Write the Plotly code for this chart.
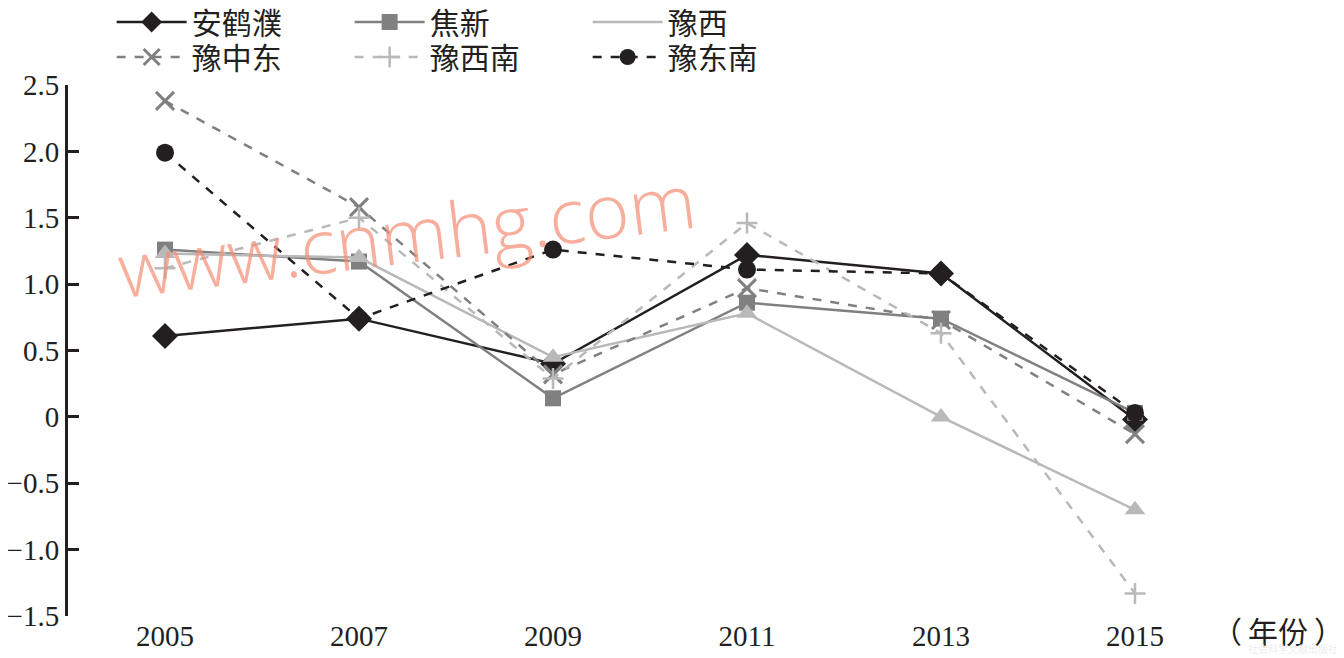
import plotly.graph_objects as go

years = ["2005", "2007", "2009", "2011", "2013", "2015"]
anhepu = [0.61, 0.74, 0.40, 1.22, 1.08, -0.02]
jiaoxin = [1.26, 1.17, 0.14, 0.86, 0.74, 0.03]
yuxi = [1.23, 1.20, 0.45, 0.78, 0.00, -0.70]
yuzhongdong = [2.38, 1.58, 0.32, 0.97, 0.73, -0.13]
yuxinan = [1.12, 1.50, 0.29, 1.46, 0.63, -1.33]
yudongnan = [1.99, 0.74, 1.26, 1.11, 1.08, 0.03]

y_ticks = [-1.5, -1.0, -0.5, 0, 0.5, 1.0, 1.5, 2.0, 2.5]
y_ticktext = ["\u22121.5", "\u22121.0", "\u22120.5", "0", "0.5", "1.0", "1.5", "2.0", "2.5"]
boundary_ticks = [0.5, 1.5, 2.5, 3.5, 4.5, 5.5]

BLACK = "#231f20"
GRAY = "#808080"
LIGHT = "#b9b9b9"
FONT = "Liberation Serif, Noto Sans CJK SC, serif"

fig = go.Figure()

fig.add_trace(go.Scatter(x=years, y=anhepu, name="安鹤濮", mode="lines+markers",
                         legend="legend",
                         line=dict(color=BLACK, width=2.5),
                         marker=dict(symbol="diamond", size=20, color=BLACK)))
fig.add_trace(go.Scatter(x=years, y=jiaoxin, name="焦新", mode="lines+markers",
                         legend="legend",
                         line=dict(color=GRAY, width=2.5),
                         marker=dict(symbol="square", size=16, color=GRAY)))
fig.add_trace(go.Scatter(x=years, y=yuxi, name="豫西", mode="lines",
                         legend="legend", legendgroup="yuxi",
                         line=dict(color=LIGHT, width=2.5)))
fig.add_trace(go.Scatter(x=years, y=yuzhongdong, name="豫中东", mode="lines+markers",
                         legend="legend2",
                         line=dict(color=GRAY, width=2.5, dash="dash"),
                         marker=dict(symbol="x-thin", size=18,
                                     line=dict(color=GRAY, width=3), color=GRAY)))
fig.add_trace(go.Scatter(x=years, y=yuxinan, name="豫西南", mode="lines+markers",
                         legend="legend2",
                         line=dict(color=LIGHT, width=2.5, dash="dash"),
                         marker=dict(symbol="cross-thin", size=15,
                                     line=dict(color=LIGHT, width=2.5), color=LIGHT)))
fig.add_trace(go.Scatter(x=years, y=yudongnan, name="豫东南", mode="lines+markers",
                         legend="legend2",
                         line=dict(color=BLACK, width=2.5, dash="dash"),
                         marker=dict(symbol="circle", size=18, color=BLACK)))
fig.add_trace(go.Scatter(x=years, y=yuxi, name="豫西", mode="markers",
                         legendgroup="yuxi", showlegend=False,
                         marker=dict(symbol="triangle-up", size=18, color=LIGHT)))

legend_common = dict(orientation="h", x=0.0375, xanchor="left", yanchor="middle",
                     font=dict(size=30, family=FONT, color=BLACK),
                     itemwidth=70, entrywidth=153, entrywidthmode="pixels",
                     bgcolor="rgba(0,0,0,0)", traceorder="normal")

# page body has an 8px margin, so the figure is 8px smaller and shifted
fig.update_layout(
    width=1336, height=650,
    margin=dict(l=60, r=112, t=77, b=42, autoexpand=False),
    paper_bgcolor="white", plot_bgcolor="white",
    font=dict(family=FONT, color=BLACK, size=29),
    showlegend=True,
    legend=dict(y=1 + (77 - 14) / 531, **legend_common),
    legend2=dict(y=1 + (77 - 49) / 531, **legend_common),
    xaxis=dict(type="category", range=[-0.5, 5.5], showline=False, showgrid=False,
               zeroline=False, ticks="", automargin=False,
               tickfont=dict(size=29, family=FONT, color=BLACK)),
    xaxis2=dict(overlaying="x", anchor="free", position=0.375, type="linear",
                range=[-0.5, 5.5], showline=True, linecolor=BLACK, linewidth=2.5,
                tickvals=boundary_ticks, ticks="inside", ticklen=11, tickwidth=2.5,
                tickcolor=BLACK, showticklabels=False, showgrid=False, zeroline=False,
                automargin=False),
    yaxis=dict(range=[-1.5, 2.5], tickvals=y_ticks, ticktext=y_ticktext,
               showline=True, linecolor=BLACK, linewidth=3, ticks="inside",
               ticklen=11, tickwidth=3, tickcolor=BLACK, showgrid=False, zeroline=False,
               automargin=False,
               tickfont=dict(size=29, family=FONT, color=BLACK)),
)

fig.add_annotation(text="（\u2009年份\u2009）", xref="paper", yref="paper", x=1.0395, y=-0.032,
                   xanchor="center", yanchor="middle", showarrow=False,
                   font=dict(size=30, family=FONT, color=BLACK))
fig.add_annotation(text="www.cnmhg.com", xref="paper", yref="paper", x=0.291, y=0.72,
                   xanchor="center", yanchor="middle", showarrow=False, textangle=-7,
                   font=dict(size=76, family="Open Sans, sans-serif", weight=300,
                             color="rgba(245,140,115,0.7)"))
fig.add_annotation(text="社会科学文献出版社", xref="paper", yref="paper", x=1.0925, y=-0.0785,
                   xanchor="right", yanchor="bottom", showarrow=False,
                   font=dict(size=10, family="Noto Sans CJK SC", color="#eeeeee"))

fig.write_html("out.html")
